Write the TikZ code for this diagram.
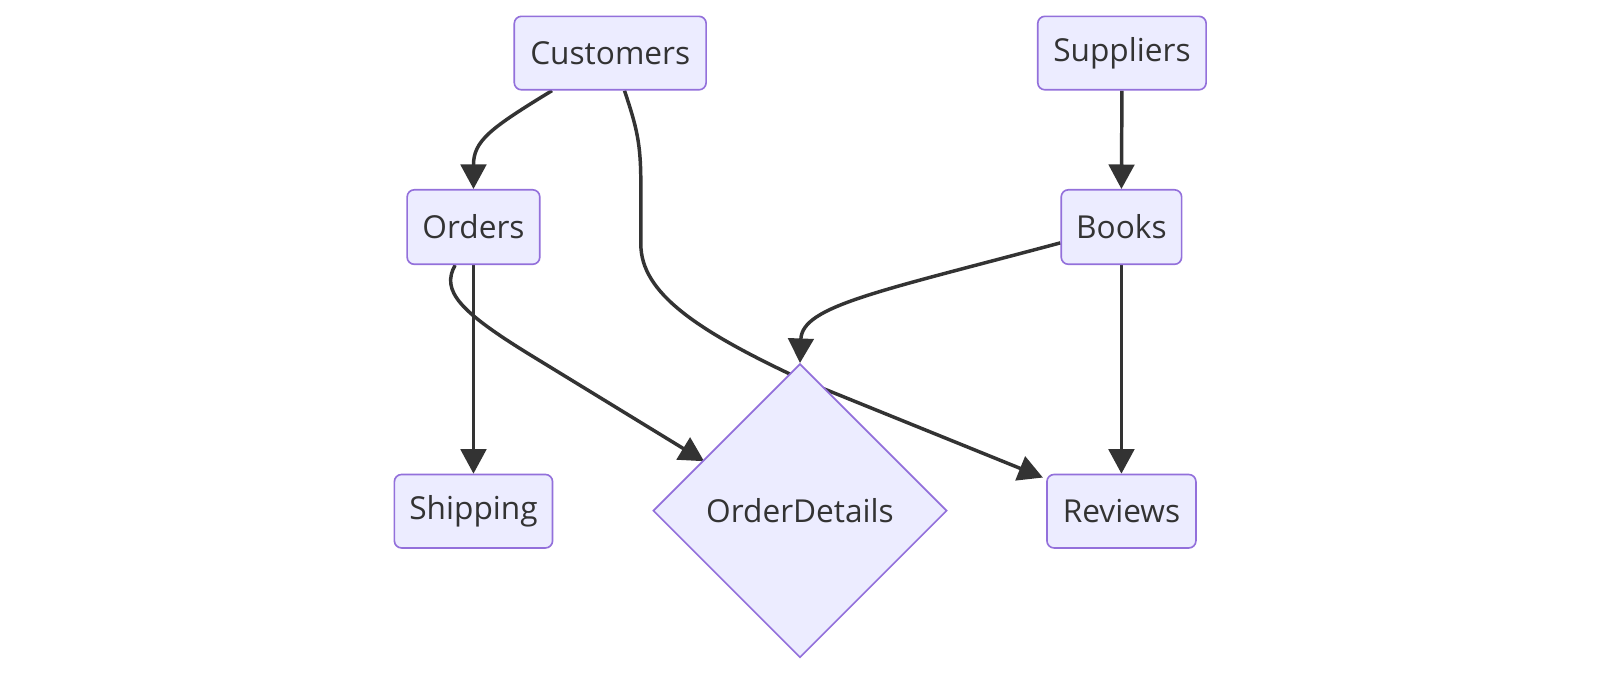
\documentclass[tikz,border=0pt]{standalone}
\usepackage{fontspec}
\setmainfont{Open Sans}
\usetikzlibrary{arrows.meta,shapes.geometric,backgrounds}
\definecolor{nodefill}{HTML}{ECECFF}
\definecolor{nodeline}{HTML}{9370DB}
\definecolor{ink}{HTML}{333333}
\tikzset{
  entity/.style={draw=nodeline, fill=nodefill, line width=1.6pt, rounded corners=7pt,
    minimum height=72pt, inner sep=0pt, text=ink, font=\fontsize{31}{36}\selectfont},
  decision/.style={draw=nodeline, fill=nodefill, line width=1.6pt, diamond, aspect=1,
    minimum width=288pt, minimum height=288pt, inner sep=0pt, text=ink,
    font=\fontsize{31}{36}\selectfont},
  link/.style={draw=ink, line width=3.4pt, -{Triangle[length=24pt,width=25pt]}, line join=round}
}
\begin{document}
\begin{tikzpicture}[x=1pt,y=-1pt]
\useasboundingbox (0,0) rectangle (1568,660.6);
\node[entity, minimum width=188pt] (cust) at (598,52) {Customers};
\node[entity, minimum width=165pt] (supp) at (1099.5,52) {Suppliers};
\node[entity, minimum width=130pt, minimum height=73pt] (ord) at (464,222.5) {Orders};
\node[entity, minimum width=118pt, minimum height=73pt] (book) at (1099,222.5) {Books};
\node[entity, minimum width=155pt] (ship) at (464,501) {Shipping};
\node[entity, minimum width=146pt] (rev) at (1099,501) {Reviews};
\node[decision] (od) at (784,500.5) {OrderDetails};
\coordinate (revtip) at (1022,468);
\coordinate (odtip) at (690,452);
\begin{scope}[on background layer]
\fill[white] (0,0) rectangle (1568,660.6);
\draw[link] ([xshift=-57pt]cust.south) .. controls (480,126) and (464,138) .. (ord.north);
\draw[link] ([xshift=14pt]cust.south) .. controls (624,125) and (628,140) .. (628,180)
  -- (628,239) .. controls (628,287) and (682,324) .. (790,374) -- (revtip);
\draw[link] (supp.south) -- (book.north);
\draw[link] (ord.south) -- (ship.north);
\draw[link] ([xshift=-18pt]ord.south) .. controls (432,285) and (450,305) .. (520,348) -- (odtip);
\draw[link] ([yshift=-15.5pt]book.west) .. controls (860,286) and (786,300) .. (od.north);
\draw[link] (book.south) -- (rev.north);
\end{scope}
\end{tikzpicture}
\end{document}
